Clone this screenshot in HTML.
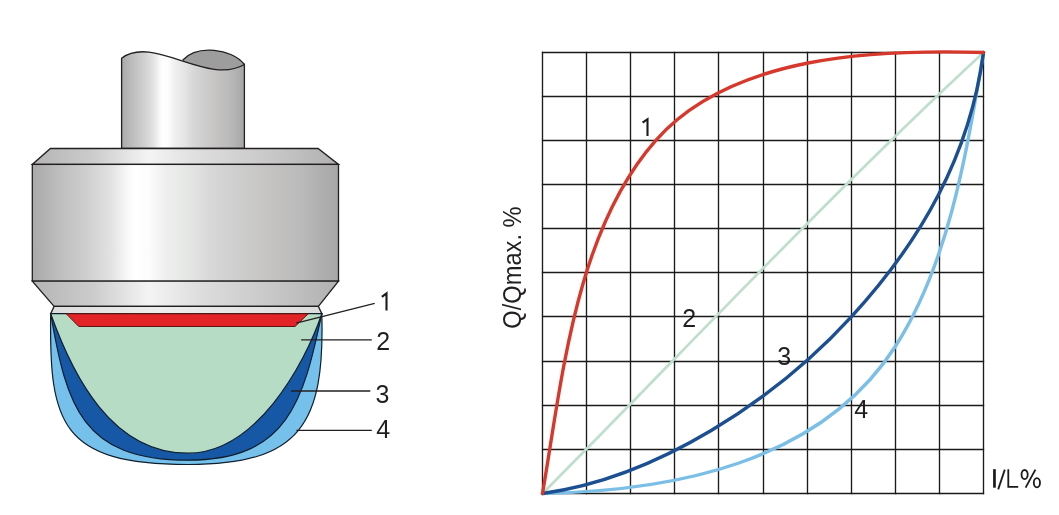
<!DOCTYPE html>
<html><head><meta charset="utf-8"><style>
html,body{margin:0;padding:0;background:#fff;overflow:hidden}
svg{display:block;will-change:transform}
text{font-family:"Liberation Sans",sans-serif;fill:#231f20}
</style></head><body>
<svg width="1059" height="515" viewBox="0 0 1059 515">
<defs>
<linearGradient id="metal" x1="0" y1="0" x2="1" y2="0">
<stop offset="0" stop-color="#a9a9a9"/>
<stop offset="0.08" stop-color="#bcbcbc"/>
<stop offset="0.18" stop-color="#cfcfcf"/>
<stop offset="0.26" stop-color="#e3e3e3"/>
<stop offset="0.31" stop-color="#f8f8f8"/>
<stop offset="0.335" stop-color="#ffffff"/>
<stop offset="0.38" stop-color="#fcfcfc"/>
<stop offset="0.44" stop-color="#eeeeee"/>
<stop offset="0.50" stop-color="#e6e8e6"/>
<stop offset="0.58" stop-color="#d8d8d8"/>
<stop offset="0.68" stop-color="#cdcdcd"/>
<stop offset="0.78" stop-color="#c4c3c1"/>
<stop offset="0.88" stop-color="#bababa"/>
<stop offset="1" stop-color="#a6a6a6"/>
</linearGradient>
<linearGradient id="metal2" x1="0" y1="0" x2="1" y2="0">
<stop offset="0" stop-color="#b4b4b4"/>
<stop offset="0.2" stop-color="#cccccc"/>
<stop offset="0.38" stop-color="#f4f4f4"/>
<stop offset="0.55" stop-color="#dddddd"/>
<stop offset="0.8" stop-color="#c6c6c6"/>
<stop offset="1" stop-color="#b0b0b0"/>
</linearGradient>
<linearGradient id="strip" x1="0" y1="0" x2="1" y2="0">
<stop offset="0" stop-color="#dcdcdc"/>
<stop offset="0.4" stop-color="#eeeeee"/>
<stop offset="1" stop-color="#dcdcdc"/>
</linearGradient>
</defs>
<g stroke="#231f20" stroke-width="1.3" stroke-linejoin="miter">
<path d="M182.6,60.2 C196.9,44.7 231.8,48.2 244.4,64.5 L244.4,80 L182.6,80 Z" fill="#9d9d9d" stroke="none"/>
<path d="M182.6,60.2 C196.9,44.7 231.8,48.2 244.4,64.5" fill="none"/>
<path d="M121.6,148.5 L121.6,58.2 C153.1,34.3 207.5,86.1 244.4,64.5 L244.4,148.5 Z" fill="url(#metal)"/>
<path d="M50.4,148.5 L318.1,148.5 L338.5,164.4 L32.3,164.4 Z" fill="url(#metal2)"/>
<rect x="32.3" y="164.4" width="306.2" height="116.8" fill="url(#metal)"/>
<path d="M32.3,281.2 L338.5,281.2 L318.4,306.4 L54.1,306.4 Z" fill="url(#metal2)"/>
<path d="M54.1,306.4 L318.4,306.4 L321.8,313.7 L50.7,313.7 Z" fill="url(#strip)"/>
</g>
<g stroke="#0f1e2c" stroke-width="1.2">
<path d="M50.70,313.70 C49.00,423.95 61.21,464.50 188.00,464.50 C300.35,464.50 324.92,424.26 321.80,313.70 Z" fill="#75c1ec"/>
<path d="M50.70,313.70 C66.45,405.31 81.51,460.20 188.00,460.20 C287.69,460.20 303.36,401.48 321.80,313.70 Z" fill="#1658a6"/>
<path d="M50.70,313.70 C72.75,375.29 111.37,453.20 188.00,453.20 C255.05,453.20 303.96,366.66 321.80,313.70 Z" fill="#b6dcc6"/>
<path d="M66.3,313.8 L308.2,313.8 L295,326.5 L78.8,326.5 Z" fill="#e32427" stroke="#5e1512" stroke-width="1"/>
</g>
<g stroke="#231f20" stroke-width="1.3" fill="none">
<line x1="296.2" y1="323.1" x2="374.7" y2="303.3"/>
<line x1="301.2" y1="339.8" x2="371.8" y2="339.8"/>
<line x1="291" y1="391" x2="370.3" y2="391"/>
<line x1="296.4" y1="430.3" x2="371.8" y2="430.3"/>
</g>
<g font-size="25" stroke="none">
<text x="376.3" y="350.3">2</text>
<text x="375.6" y="402.6">3</text>
<text x="376.35" y="438.4">4</text>
</g>
<g font-size="25" stroke="none">
<text x="682.15" y="326.9">2</text>
<text x="777.3" y="365.3">3</text>
<text x="854.3" y="417.8">4</text>
</g>
<g stroke="#1a1a1a" stroke-width="1.35" fill="none">
<line x1="542.50" y1="51.85" x2="542.50" y2="494.15"/>
<line x1="541.85" y1="52.50" x2="984.15" y2="52.50"/>
<line x1="586.50" y1="51.85" x2="586.50" y2="494.15"/>
<line x1="541.85" y1="96.50" x2="984.15" y2="96.50"/>
<line x1="630.50" y1="51.85" x2="630.50" y2="494.15"/>
<line x1="541.85" y1="140.50" x2="984.15" y2="140.50"/>
<line x1="674.50" y1="51.85" x2="674.50" y2="494.15"/>
<line x1="541.85" y1="184.50" x2="984.15" y2="184.50"/>
<line x1="718.50" y1="51.85" x2="718.50" y2="494.15"/>
<line x1="541.85" y1="228.50" x2="984.15" y2="228.50"/>
<line x1="763.50" y1="51.85" x2="763.50" y2="494.15"/>
<line x1="541.85" y1="272.50" x2="984.15" y2="272.50"/>
<line x1="807.50" y1="51.85" x2="807.50" y2="494.15"/>
<line x1="541.85" y1="316.50" x2="984.15" y2="316.50"/>
<line x1="851.50" y1="51.85" x2="851.50" y2="494.15"/>
<line x1="541.85" y1="361.50" x2="984.15" y2="361.50"/>
<line x1="895.50" y1="51.85" x2="895.50" y2="494.15"/>
<line x1="541.85" y1="405.50" x2="984.15" y2="405.50"/>
<line x1="939.50" y1="51.85" x2="939.50" y2="494.15"/>
<line x1="541.85" y1="449.50" x2="984.15" y2="449.50"/>
<line x1="983.50" y1="51.85" x2="983.50" y2="494.15"/>
<line x1="541.85" y1="493.50" x2="984.15" y2="493.50"/>
</g>
<g fill="none" stroke-linecap="round">
<path d="M542.5,493.5 C688.8,346.2 831.0,193.6 983.5,52.5" stroke="#bfdfcd" stroke-width="2.7"/>
<path d="M542.50,493.50 C671.36,490.91 819.94,463.85 895.48,346.25 C949.76,261.74 967.00,149.54 983.50,52.50" stroke="#7cbfe6" stroke-width="3.4"/>
<path d="M542.50,493.50 C657.04,477.93 774.84,400.20 851.52,316.61 C921.01,240.85 969.64,156.17 983.50,52.50" stroke="#1b4f91" stroke-width="3.4"/>
<path d="M542.50,493.50 C562.37,377.59 575.70,230.76 655.84,140.26 C731.76,54.50 876.99,49.35 983.50,52.50" stroke="#d7382c" stroke-width="3.4"/>
</g>

<text font-size="25.5" textLength="122.5" lengthAdjust="spacingAndGlyphs" transform="translate(521.3,328.8) rotate(-90)">Q/Qmax. %</text>
<rect x="993.1" y="469.2" width="2.7" height="18.5" fill="#1a1a1a"/>
<g fill="none" stroke="#1a1a1a" stroke-width="1.8">
<path d="M998.2,489.4 L1004.8,469.6"/>
<path d="M1008.3,469.2 L1008.3,486.9 L1018.2,486.9"/>
<ellipse cx="1024.6" cy="474.6" rx="3.1" ry="4.6"/>
<ellipse cx="1036.9" cy="482.8" rx="3.1" ry="4.6"/>
<path d="M1025.6,487.6 L1035.4,469.6"/>
</g>
<g fill="none" stroke="#1a1a1a" stroke-width="2.1" stroke-linejoin="miter">
<path d="M381.9,296.9 L386.5,293.4 L386.5,310.6"/>
<path d="M642.6,122.7 L647.5,119.2 L647.5,136.1"/>
</g>
</svg>
</body></html>
